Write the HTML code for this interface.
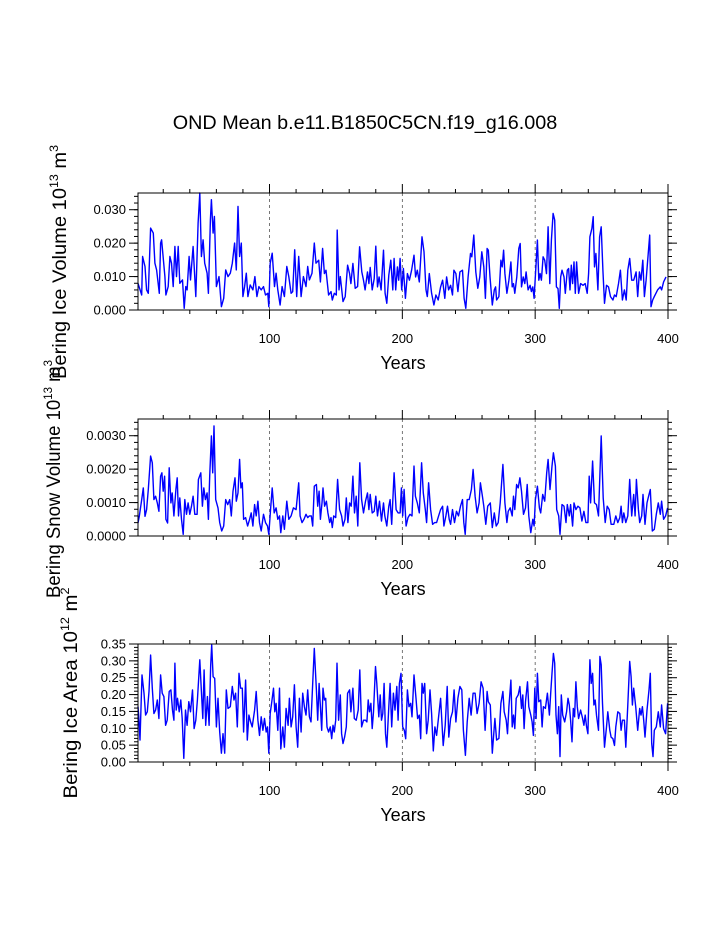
<!DOCTYPE html>
<html><head><meta charset="utf-8"><style>
html,body{margin:0;padding:0;background:#fff;}
svg{display:block;}
text{font-family:"Liberation Sans",Arial,sans-serif;fill:#000;}
</style></head><body>
<svg id="chart" width="723" height="935" viewBox="0 0 723 935" xmlns="http://www.w3.org/2000/svg">
<text x="365" y="129" font-size="19.8" text-anchor="middle">OND Mean b.e11.B1850C5CN.f19_g16.008</text>
<g id="plots"></g>
</svg>
<script>
// ---------- Panel 1: Ice volume (units 1e-3 * 1e13 m^3) ----------
const years1 = [1,3.75,4.5,6.25,7.5,8.75,10.5,12.5,13.75,15,17,18,18.75,21.25,22,23.75,25,26.25,27.5,28.75,30,31.25,32.5,34.5,35.75,37,38,39.5,40.5,42.5,44.5,46.25,47.5,48.75,50,51.25,53,54,55.5,56.25,57.5,58.5,60,62,63.75,65.5,67,68.75,70.5,72,73.75,75,76.25,77.5,78.75,80,81.25,82.5,83.75,85.5,87.5,89,90.5,92,93.75,95.5,97,98.75,99.5,100.5,102,103.75,105,106.25,108,109.5,111.25,113,114.5,116.25,117.5,119,120.5,122,123.75,125.5,127.5,128.75,130,132,133.75,135,
137,138.3,140,141.3,142.5,144.5,146.3,147.3,148.8,150.3,151,152.3,153.3,155.3,157,158.8,160.3,161.3,162.8,164.5,166.3,167.8,169.5,170.8,172,173.8,174.8,175.8,177.3,178.8,180,181.3,182.5,184,185.8,187,188.3,189.8,191.3,192.8,193.8,195,196.3,197.3,198.3,199.5,200.8,202.3,203.8,205.3,207,208.8,210,211.3,212.8,213.8,214.8,216.3,217.8,218.8,220.3,222,223.8,225.3,227,228.8,230.3,232,233.3,234.8,236.3,237.8,238.8,240.3,241.8,243.3,245.3,246.5,247.8,249.5,251.3,252.3,253.8,255.3,256.8,258.3,259.8,261.3,262.5,263.8,
264.7,266,267.7,269.2,270.2,271,272.7,274.2,275.2,276.2,277.2,278.7,280.2,281.7,282.7,283.7,284.7,286.2,287.7,288.7,289.7,291,292.2,293.2,294.7,296.2,297.2,298.2,299.2,300.7,301.7,302.7,303.7,304.7,306,307.2,308.5,309.7,311,312.2,313.5,314.7,316,317.2,318.2,319.2,320.2,321.7,322.7,324.2,325.2,326.2,327.2,328.2,329.2,330.2,331.2,332.7,334.2,336,337.7,339.2,340.2,341.2,342.7,343.7,344.7,345.7,347.2,348.5,349.7,351,352.2,353.7,355.2,356.7,358.5,359.7,361,362.7,364.2,365.7,367.2,368.5,369.7,371.2,372.7,374.2,376,377.2,378.5,379.7,381,382.2,383.5,384.7,386.2,387.2,388.5,389.7,392.2,394.2,395.2,396.7,398.5];
const values1 = [8,4.5,16,13,6,5,24.5,23,14,12,5,20,21,10,4.5,7,16,14,7,19,10,19,8,9,0.5,7,6,16,9,19,4,26,35,16,21,14,11,5,27,33,23,28,7,10,1,3.5,12,10,11,14,20,12,31,16,20,4,7,11,4,7.5,6,10,4,7,6,7,4.5,5,1,14,17,7,11,6,1.5,7,4,13,10,5,5.5,18,4,16,4,10,7,13,9,11,20,14,
14.9,8.4,18.4,10.9,11.9,4.5,5.5,3,5,4.5,23.9,6,10,2.5,4,13.4,10.9,7.9,13.9,6.5,7,18.9,11.4,8.9,6,11.4,7.9,12.7,6,9.4,19.1,6.9,9.9,6,17.9,5,2,10.4,14.9,6,15.4,6,12.9,8.9,15.4,6,12.4,3.5,10.9,8.9,11.9,16.4,9.9,11.9,8.4,15.4,21.9,17.4,6,4,10.9,5,1.5,4.5,3,6.9,8.9,3.5,9.9,6,7.4,4.5,11.9,10.9,5.5,11.4,11.9,3.5,0.5,9.9,16.9,15.9,22.4,11.4,6.5,9.9,17.4,12.9,3.5,18.4,
17.9,9.9,1.5,6,6.9,3,4,14.9,12.9,17.9,10.9,5,8.9,14.4,6.9,7.9,5,9.9,18.4,19.9,6.9,9.9,7.9,11.4,6,7.4,5.5,6.9,3.5,13.9,20.9,8.9,10.9,8.9,15.9,14.9,10.9,24.9,7.9,20.9,28.9,26.9,6.9,6.4,0.5,9.9,11.9,9.9,5,11.9,12.4,6,13.4,7.9,14.4,5,14.4,5,7.9,7.4,7.9,5,10.9,21.9,24.4,27.9,12.9,16.9,6,21.9,24.9,11.9,2,7.4,6.9,4,3,4.5,4,7.9,11.9,3,6,3,11.9,15.4,8.9,8.9,11.4,4,11.4,8.9,14.9,4,8.9,14.9,22.4,1,3,4,6,6.9,6,8.4,9.9];
const ticks1 = [0,10,20,30];
const tickLabels1 = ["0.000","0.010","0.020","0.030"];

// ---------- Panel 2: Snow volume (units 1e-4 * 1e13 m^3) ----------
const years2 = [1,2,3.75,5,6.25,7.5,8.75,10.5,11.75,13,14.25,15.5,16.75,18,19,20,21,22,23.25,24.5,25.75,26.75,28,29.5,30.5,31.5,32.5,33.75,35,36.25,37.5,38.75,40,41.25,42.5,43.75,45.5,46.5,48.25,49.5,50.5,51.75,53,54,55,56.25,57.25,58.25,59.5,61.25,62.5,64,65.5,67,68.5,70,71.25,72.5,74,75,76.25,77.5,78.5,79.5,80.5,82,83.5,85,86.25,87.5,88.75,90,91.25,92.5,93.75,95.5,97,98.5,99.5,101,102,103.5,105,106.25,107.5,108.5,110,111.25,113,114.5,116.25,118,120,122,123,124.5,126,127.5,128.75,130,131.5,132.5,133.75,
135.3,136.3,137.3,138.3,139.5,140.3,141.5,142.8,144,145.3,146.3,147.3,148.3,149.8,151.3,152.8,154.3,155.3,156.8,157.8,159,160.3,161.5,162.8,164,165.3,166.5,168,169.3,170.8,172.3,173.8,174.8,175.8,177.3,178.8,180,181.3,182.8,184.3,185.8,186.8,188.3,189.8,190.8,192,193.8,195.3,196.8,198.3,199.3,200.3,201.3,202.8,204.3,205.8,207.3,208.8,209.8,211.3,212.8,214.5,215.8,217.3,218.3,219.8,221.3,222.8,224.3,225.8,227.3,228.8,230.3,231.3,232.8,234,235.3,236.3,237.8,239.3,240.8,242.3,243.8,245.3,246.3,247.3,248.8,250.3,252,253.3,254.8,256.3,257.8,258.8,260.3,261.3,262.8,264.3,
266.2,267.7,269.2,270.7,272.2,273.7,275.7,277.2,278.7,279.7,281.2,282.7,283.7,284.7,286,287.2,288.5,289.7,291.2,292.7,294,295.2,296.7,298.2,299.2,300.2,301.7,303.2,304.2,305.7,307.2,308.7,309.7,311.2,312.7,313.7,315.2,316.2,317.7,318.7,320.2,321.7,323.2,324.2,325.7,326.7,328.2,329.2,330.7,332.2,333.7,335.2,336.7,338.2,339.7,340.7,341.7,343.2,344.7,346.2,347.7,349.7,351.2,352.7,354.2,355.7,357.2,359.2,360.7,362.2,363.7,364.7,365.7,366.7,368.2,369.7,371.2,372.7,374.2,375.2,376.2,377.7,378.7,380.2,381.2,382.7,384.2,385.7,386.7,388.2,389.7,391.2,392.7,394.2,395.2,396.7,398.2,399.7];
const values2 = [3.9,5.9,10.9,14.4,5.9,7.9,13.9,23.9,21.9,10.9,11.9,9.9,7.4,17.9,18.9,13.4,17.9,5,3.9,20.4,9.9,12.9,6,13.9,17.4,6,11.4,5,0.5,10.9,6.5,9.9,6.5,8.9,11.9,6.5,6.5,16.9,18.9,8.9,14.4,10.9,12.9,5,17.9,29.9,18.9,32.9,10.9,8.4,4,1.5,3,10.9,9.4,10.9,6,13.4,17.4,10.4,12.9,22.9,14.4,15.9,5,5.5,3,5,6.9,3,9.4,6,10.4,4,1.5,6.5,4,3,0.5,8.9,14.4,6.9,8.4,5,6,1,6,2,10.4,5,6,8.4,7.9,15.9,6,4,5,6.5,5.5,6,6,3,14.9,
15.4,8.9,13.4,5,9.9,14.4,8.9,10.4,6.9,4,5.5,2.5,6,5.5,16.9,7.9,6,3,5,11.4,4,9.9,8.9,17.9,6.9,11.9,3,21.9,10.9,6.9,10.4,12.9,7.9,12.4,6.9,7.4,11.9,6,10.4,4.5,9.9,6,3,8.9,10.9,3.5,18.9,7.9,6.9,6.9,14.4,6,13.9,3,5.5,6.5,6,20.9,11.9,9.9,6.9,21.9,12.9,7.9,4,15.9,7.9,3.5,4,4,6,7.9,8.9,3,6,8.9,5,3.5,7.9,4,7.4,6,8.9,10.9,4,0.5,10.9,10.9,13.9,19.9,11.9,6.9,9.9,15.9,11.9,8.9,3.5,8.9,
9.9,2.5,6.9,3,4,9.9,21.4,9.9,4,7.4,8.4,6,11.9,7.9,15.4,14.4,17.4,13.4,6.5,8.4,15.4,6,1,5,3,10.9,14.9,8.4,6.9,12.4,10.4,18.9,22.9,13.9,20.9,24.9,20.9,7.9,6,0.5,9.4,8.9,4,9.4,6,9.4,3,9.9,7.9,8.9,8.4,4.5,7.4,4,4,17.9,9.9,22.4,9.9,9.4,6,29.9,11.4,4,8.9,7.9,3.5,3.5,6,4,5.5,8.9,4,6.9,4,6,16.9,6,12.4,6,16.9,7.9,4,6,12.4,3.5,9.9,12.4,13.9,1.5,2,6.5,9.9,6.5,10.4,5,6,8.4];
const ticks2 = [0,10,20,30];
const tickLabels2 = ["0.0000","0.0010","0.0020","0.0030"];

// ---------- Panel 3: Ice area (units 1e-2 * 1e12 m^2) ----------
const years3 = [1,1.6,2.5,4,5.5,6.75,8,9.25,10.5,11.75,13,14.25,15.5,16.75,18,19.25,20.5,21.75,23,24.5,25.75,27,28,28.75,29.75,30.75,32,33.25,34.25,35.5,36.75,38,39.25,40.5,42,43.25,44.5,45.75,47.5,48.75,49.75,50.75,52,53.25,54.5,55.75,56.5,57.5,58.75,60,61.25,62.5,63.75,65,66.25,67.5,68.75,70.5,72,73.25,74.5,75.75,77,78.25,79.5,80.5,82,83.25,84.5,85.75,87,88.75,90,91.25,92.5,93.75,95,96.25,97.5,98.5,99.5,100.5,101.75,103,104,105,106.25,107.5,108.5,110,111.25,112.5,114,115,116.25,117.5,118.75,120,121.25,122.5,123.75,125,126.25,127.5,128.75,130,131.25,132.5,133.75,
135.3,136.3,137.3,138.3,139.3,140.3,141.3,142.3,143.3,144.5,145.8,146.8,147.8,148.8,149.8,150.8,152,153.3,154.3,155.3,156.5,157.8,158.8,160.3,161.3,162.8,163.8,165.3,166.8,168,169.3,170.8,172.3,173.3,174.3,175.3,176.3,177.3,178.3,179.8,180.8,182.3,183.3,184.3,185.3,186.3,187.3,188.3,189.8,190.8,192,193.3,194.5,195.8,196.8,197.8,199,200.3,201.5,202.5,203.8,205,206.3,207.3,208.8,210.3,211.5,212.8,213.8,214.8,215.8,216.8,218.3,219.5,220.8,222,223.3,224.5,225.8,227.3,228.8,229.8,230.8,232.3,233.8,235,236.3,237.8,239,240.3,241.8,243.3,244.8,246,247.5,248.8,250.3,251.8,253.3,254.8,256.3,257.8,259.3,260.8,262.3,263.8,
264.7,266.2,267.7,269.7,271,272.7,274.2,275.7,276.7,278.2,279.2,280.2,281.7,282.7,283.7,284.7,285.7,287.2,288.5,289.7,290.7,291.7,292.7,294.2,295.2,296.7,297.7,298.7,299.7,300.7,301.7,302.7,304.2,305.2,306.2,307.7,309.2,310.7,311.7,312.7,313.7,314.7,315.7,316.7,317.7,318.7,319.7,320.7,322.2,323.7,324.7,325.7,326.7,327.7,328.7,329.7,330.7,331.7,332.7,334.2,335.7,336.7,337.7,338.7,339.7,341.2,342.2,343.2,344.2,345.2,346.2,347.7,348.7,349.7,350.7,352.2,353.7,354.7,356.2,357.2,358.5,359.7,360.7,362.2,363.7,364.7,365.7,367.2,368.2,369.7,371.2,372.2,373.2,374.2,375.7,377.2,378.7,379.7,380.7,381.7,382.7,384.2,385.7,386.7,387.7,388.7,389.7,391.2,392.7,394.2,395.2,396.7,398.2,399.7];
const values3 = [16.4,13.4,6.5,25.8,20.4,13.9,14.9,20.9,31.7,21.9,14.4,15.4,18.4,12.9,25.8,20.4,19.4,10.9,12.4,20.9,21.4,15.4,12.4,29.3,15.4,18.9,14.9,18.4,12.9,1.1,15.4,10.9,17.9,14.9,21.4,9.9,12.4,18.4,30.3,20.9,12.9,27.3,10.9,19.4,10.9,28.8,34.7,25.3,24.8,10.4,18.9,8.9,2.6,8.4,2.6,21.4,15.9,16.4,22.4,18.4,20.4,10.4,26.3,21.9,21.9,8.9,24.3,6.5,13.9,11.9,10.4,15.4,20.9,12.4,7.9,13.4,9.4,12.9,8.9,10.4,2.6,14.4,17.9,21.9,14.9,17.4,9.4,21.9,3.9,10.4,4.4,15.9,10.9,18.9,10.4,13.4,22.9,10.4,4.4,18.9,8.9,20.4,16.4,13.9,21.4,13.4,11.9,23.3,33.7,
21.4,12.4,23.3,16.4,9.4,21.9,18.4,18.9,10.4,8.9,10.4,6.9,10.9,8.9,12.4,29.3,12.4,19.9,8.4,5.5,7.4,10.4,20.4,21.4,14.9,21.9,12.9,12.4,15.4,27.3,10.4,12.4,12.4,11.9,18.4,14.9,17.4,9.9,14.9,28.3,23.3,13.4,19.9,12.4,14.4,23.3,8.4,4.4,16.4,23.3,10.4,20.4,15.4,22.4,12.4,23.3,26.3,10.4,9.4,6.9,21.4,16.4,17.4,13.4,25.8,18.9,12.9,13.9,6.9,23.3,20.4,23.3,8.4,12.4,21.4,14.4,3.3,10.4,7.9,13.4,18.9,11.9,4.9,10.9,22.4,7.4,12.9,14.9,21.4,11.9,18.9,22.4,21.4,9.4,2.0,11.9,18.9,13.9,20.4,20.4,14.4,17.4,23.8,21.9,9.4,20.9,
17.9,16.9,2.6,12.9,6.5,7.0,17.4,20.9,14.9,12.4,8.4,16.4,24.3,10.4,13.9,9.9,18.9,19.9,22.4,15.9,19.9,9.9,17.9,23.8,16.4,13.9,11.9,7.9,21.9,12.9,26.3,17.9,18.4,10.4,16.4,15.9,20.4,13.9,20.4,26.3,32.2,29.3,13.9,8.4,16.4,1.6,19.9,13.9,11.9,14.9,18.9,16.9,12.4,6.0,15.9,13.4,23.8,16.4,12.9,15.4,12.9,10.9,13.9,10.4,8.4,30.3,23.3,26.3,16.9,18.4,13.9,9.4,31.3,28.8,17.4,4.4,10.4,14.9,9.4,7.4,6.9,4.9,10.4,14.9,14.4,9.4,12.4,12.4,4.4,16.9,29.8,25.3,16.9,21.9,16.4,9.4,15.9,13.9,16.4,12.4,7.4,15.4,21.4,26.3,5.5,1.6,9.4,10.4,14.9,10.4,16.9,9.9,8.4,17.4];
const ticks3 = [0,5,10,15,20,25,30,35];
const tickLabels3 = ["0.00","0.05","0.10","0.15","0.20","0.25","0.30","0.35"];

const xTicks = [100,200,300,400];
const xMinorTicks = [20,40,60,80,120,140,160,180,220,240,260,280,320,340,360,380];

const NS = "http://www.w3.org/2000/svg";
const root = document.getElementById('plots');
const L = 138, R = 668, X0 = 1, X1 = 400;
function sx(v){ return L + (v - X0) / (X1 - X0) * (R - L); }
function mk(tag, attrs, parent){
  const e = document.createElementNS(NS, tag);
  for (const k in attrs) e.setAttribute(k, attrs[k]);
  (parent || root).appendChild(e);
  return e;
}

function panel(name, top, bottom, ymax, yrs, vals, ticks, labels, minorStep, titleX, titleParts){
  const g = mk('g', {});
  
  
  const sy = v => bottom - v / ymax * (bottom - top);
  [100,200,300].forEach(v => {
    const l = mk('line', {x1:sx(v), x2:sx(v), y1:top, y2:bottom, stroke:'#555', 'stroke-width':0.8, 'stroke-dasharray':'3,3'}, g);
    
    
  });
  const n = Math.min(yrs.length, vals.length);
  let d = '';
  for (let i = 0; i < n; i++) d += (i ? 'L' : 'M') + sx(yrs[i]).toFixed(1) + ',' + sy(vals[i]).toFixed(1);
  const p = mk('path', {d:d, fill:'none', stroke:'#0000ff', 'stroke-width':1.4, 'stroke-linejoin':'round'}, g);
  
  
  const fr = mk('rect', {x:L, y:top, width:R-L, height:bottom-top, fill:'none', stroke:'#000', 'stroke-width':1}, g);
  
  
  xTicks.forEach(v => {
    mk('line', {x1:sx(v), x2:sx(v), y1:bottom, y2:bottom+9, stroke:'#000'}, g);
    mk('line', {x1:sx(v), x2:sx(v), y1:top, y2:top-9, stroke:'#000'}, g);
    const t = mk('text', {x:sx(v), y:bottom+33, 'font-size':13, 'text-anchor':'middle'}, g);
    t.textContent = v;
    
    
  });
  xMinorTicks.forEach(v => {
    mk('line', {x1:sx(v), x2:sx(v), y1:bottom, y2:bottom+4, stroke:'#000'}, g);
    mk('line', {x1:sx(v), x2:sx(v), y1:top, y2:top-4, stroke:'#000'}, g);
  });
  for (let v = 0; v <= ymax + 1e-9; v += minorStep) {
    mk('line', {x1:L, x2:L-4, y1:sy(v), y2:sy(v), stroke:'#000'}, g);
    mk('line', {x1:R, x2:R+4, y1:sy(v), y2:sy(v), stroke:'#000'}, g);
  }
  ticks.forEach((v, i) => {
    mk('line', {x1:L, x2:L-9, y1:sy(v), y2:sy(v), stroke:'#000'}, g);
    mk('line', {x1:R, x2:R+9, y1:sy(v), y2:sy(v), stroke:'#000'}, g);
    const t = mk('text', {x:L-12, y:sy(v)+4.5, 'font-size':13, 'text-anchor':'end'}, g);
    t.textContent = labels[i];
    
    
  });
  const xt = mk('text', {x:403, y:bottom+59, 'font-size':18, 'text-anchor':'middle'}, g);
  xt.textContent = 'Years';
  
  
  const yt = mk('text', {x:0, y:0, 'font-size':19.5, 'text-anchor':'middle', textLength:titleParts.len, lengthAdjust:'spacingAndGlyphs', transform:'translate(' + titleX + ',' + titleParts.cy + ') rotate(-90)'}, g);
  
  
  titleParts.parts.forEach(pt => {
    const ts = mk('tspan', pt.sup ? {'font-size':12, dy:-8} : (pt.down ? {dy:8} : {}), yt);
    ts.textContent = pt.t;
  });
}

panel('ice-volume', 193, 310, 35, years1, values1, ticks1, tickLabels1, 2, 66,
  {cy:262, len:234, parts:[{t:'Bering Ice Volume 10'},{t:'13',sup:true},{t:' m',down:true},{t:'3',sup:true}]});
panel('snow-volume', 419, 536, 35, years2, values2, ticks2, tickLabels2, 2, 60,
  {cy:479, len:238, parts:[{t:'Bering Snow Volume 10'},{t:'13',sup:true},{t:' m',down:true},{t:'3',sup:true}]});
panel('ice-area', 644, 762, 35, years3, values3, ticks3, tickLabels3, 1, 77,
  {cy:693, len:211, parts:[{t:'Bering Ice Area 10'},{t:'12',sup:true},{t:' m',down:true},{t:'2',sup:true}]});
</script>
</body></html>
